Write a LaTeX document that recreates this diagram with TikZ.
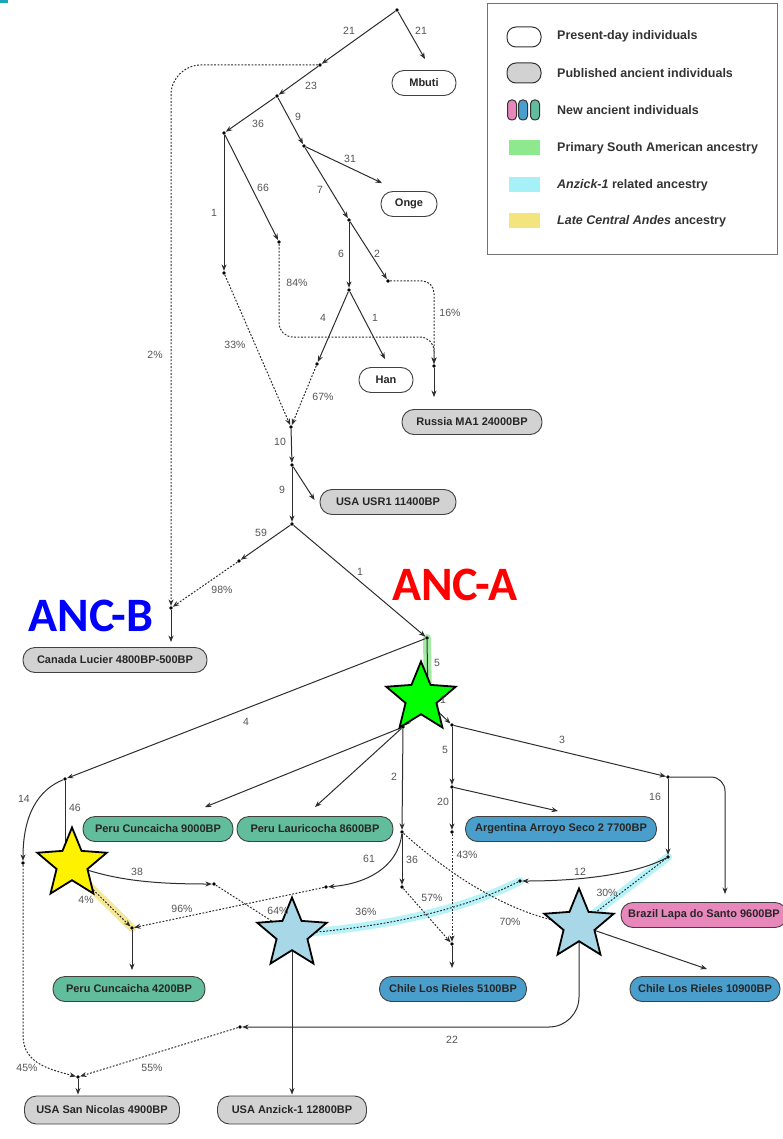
\documentclass[tikz,border=0pt]{standalone}
\usepackage{fontspec}
\setmainfont{Liberation Sans}
\newfontfamily\ancfont{Carlito}
\usetikzlibrary{arrows.meta,shapes.geometric,calc}
\definecolor{edgec}{HTML}{2E2E2E}
\definecolor{lblc}{HTML}{555555}
\definecolor{peruc}{HTML}{62BD9C}
\definecolor{chilec}{HTML}{4A9ECB}
\definecolor{brazc}{HTML}{E887BC}
\definecolor{ancgray}{HTML}{D2D2D2}
\definecolor{hlgreen}{HTML}{8EE88E}
\definecolor{hlcyan}{HTML}{A6F0F7}
\definecolor{hlyellow}{HTML}{F3E47E}
\definecolor{starblue}{HTML}{A8D8E8}
\definecolor{starred}{HTML}{FF0000}
\definecolor{tealmark}{HTML}{1AA6B7}
\pgfdeclarelayer{bg}
\pgfsetlayers{bg,main}
\tikzset{
  dot/.style={circle,fill=black,inner sep=0pt,minimum size=3.8pt},
  pop/.style={draw=black!75,line width=0.9pt,rounded corners=12pt,minimum height=25pt,inner sep=2pt,
    font=\bfseries\fontsize{11}{11}\selectfont,text=black!85},
  modern/.style={pop,fill=white},
  oldpub/.style={pop,fill=ancgray},
  grn/.style={pop,fill=peruc},
  blu/.style={pop,fill=chilec},
  pnk/.style={pop,fill=brazc},
  lbl/.style={font=\fontsize{10.5}{10.5}\selectfont,text=lblc,inner sep=0pt},
  sol/.style={draw=edgec,line width=1pt,-{Stealth[length=6.5pt,width=5pt]}},
  dtd/.style={sol,dash pattern=on 1.8pt off 1.6pt},
  hl/.style={line width=8pt,line cap=round,opacity=0.8},
  bigstar/.style={star,star points=5,star point ratio=2.25,minimum size=73pt,inner sep=0pt,draw=black,line width=1.8pt},
  legtxt/.style={anchor=west,font=\bfseries\fontsize{12.5}{12.5}\selectfont,text=black!80,inner sep=0pt},
  legpill/.style={draw=black!80,line width=1pt,rounded corners=9pt,minimum width=34pt,minimum height=20pt,inner sep=0pt},
  legthin/.style={draw=black!80,line width=1pt,rounded corners=4pt,minimum width=9pt,minimum height=20pt,inner sep=0pt},
  legsq/.style={minimum width=31pt,minimum height=15pt,inner sep=0pt},
  anclbl/.style={font=\ancfont\bfseries\fontsize{48}{48}\selectfont,inner sep=0pt}
}
\begin{document}
\begin{tikzpicture}[x=1pt,y=-1pt]
\useasboundingbox (0,0) rectangle (783,1139);
\begin{pgfonlayer}{bg}
\fill[white] (0,0) rectangle (783,1139);
\end{pgfonlayer}
\fill[tealmark] (0,0) rectangle (8,3);

% branching points
\foreach \n/\x/\y in {r0/397/10, n1/320/65, n2/277/96, n3/224/133, n4/304/146, n5/224/273,
  n6/279/242, n7/349/220, n8/349/290, n9/388/281, n10/317/364, n11/434/366, n12/291/427,
  n13/292/465, n14/292/524, n15/239/561, ancB/171/608, ancA/427/638, n16/428/702,
  n17/452/725, n18/403/727, n19/65/779, n20/452/787, n21/668/777, n22/452/832, n23/668/857,
  n24/402/832, n25/402/887, n26/452/944, n27/520/881, n28/240/1027, n29/326/887,
  n30/132/928, n31/214/884, n32/65/862, n33/23/863, n34/78/1077, n35/292/934, n36/579/925}
  \node[dot] (\n) at (\x,\y) {};

% populations
\node[modern,minimum width=64pt] (mbuti) at (424,83) {Mbuti};
\node[modern,minimum width=56pt] (onge) at (409,204) {Onge};
\node[modern,minimum width=54pt] (han) at (386,380) {Han};
\node[oldpub,minimum width=140pt] (ma1) at (472,422) {Russia MA1 24000BP};
\node[oldpub,minimum width=136pt] (usr1) at (388,502) {USA USR1 11400BP};
\node[oldpub,minimum width=184pt] (lucier) at (115,660) {Canada Lucier 4800BP-500BP};
\node[grn,minimum width=150pt] (cun9) at (158,829) {Peru Cuncaicha 9000BP};
\node[grn,minimum width=156pt] (lau) at (315,829) {Peru Lauricocha 8600BP};
\node[blu,minimum width=191pt] (arg) at (561,829) {Argentina Arroyo Seco 2 7700BP};
\node[pnk,minimum width=166pt] (brz) at (704,915) {Brazil Lapa do Santo 9600BP};
\node[grn,minimum width=152pt] (cun4) at (129,989) {Peru Cuncaicha 4200BP};
\node[blu,minimum width=147pt] (lr5) at (453,989) {Chile Los Rieles 5100BP};
\node[blu,minimum width=150pt] (lr10) at (705,989) {Chile Los Rieles 10900BP};
\node[oldpub,minimum width=155pt,minimum height=28pt] (sn) at (102,1110) {USA San Nicolas 4900BP};
\node[oldpub,minimum width=149pt,minimum height=28pt] (anz) at (292,1110) {USA Anzick-1 12800BP};

% arrow end points near the populations
\coordinate (mbuti-in) at ($(mbuti.north)+(1,-11)$);
\coordinate (onge-in) at ($(onge.north)+(-27,-8)$);
\coordinate (han-in) at ($(han.north)+(-1,-8)$);
\coordinate (ma1-in) at ($(n11 |- ma1.north)+(0,-12)$);
\coordinate (usr1-in) at ($(usr1.west)+(-5,-2)$);
\coordinate (lucier-in) at ($(ancB |- lucier.north)+(0,-5)$);
\coordinate (cun9-in) at ($(cun9.north)+(47,-9)$);
\coordinate (lau-in) at ($(lau.north)+(0,-9)$);
\coordinate (arg-in) at ($(arg.north)+(-3,-5)$);
\coordinate (brz-in) at ($(brz.north)+(21,-8)$);
\coordinate (cun4-in) at ($(n30 |- cun4.north)+(0,-6)$);
\coordinate (lr5-in) at ($(n26 |- lr5.north)+(0,-8)$);
\coordinate (lr10-in) at ($(lr10.north)+(2,-7)$);
\coordinate (sn-in) at ($(n34 |- sn.north)+(0,-1)$);
\coordinate (anz-in) at ($(n35 |- anz.north)+(0,-1)$);

% highlights
\begin{pgfonlayer}{bg}
\draw[hl,hlgreen] (ancA.center) -- (n16.center);
\draw[hl,hlyellow] (n32.center) -- (n30.center);
\draw[hl,hlcyan] (n27.center) .. controls (470,906) and (400,926) .. (n35.center);
\draw[hl,hlcyan] (n23.center) -- (n36.center);
\end{pgfonlayer}

% solid edges
\draw[sol] (r0) -- (n1);
\draw[sol] (r0) -- (mbuti-in);
\draw[sol] (n1) -- (n2);
\draw[sol] (n2) -- (n3);
\draw[sol] (n2) -- (n4);
\draw[sol] (n3) -- (n5);
\draw[sol] (n3) -- (n6);
\draw[sol] (n4) -- (onge-in);
\draw[sol] (n4) -- (n7);
\draw[sol] (n7) -- (n8);
\draw[sol] (n7) -- (n9);
\draw[sol] (n8) -- (han-in);
\draw[sol] (n8) -- (n10);
\draw[sol] (n11) -- (ma1-in);
\draw[sol] (n12) -- (n13);
\draw[sol] (n13) -- (usr1-in);
\draw[sol] (n13) -- (n14);
\draw[sol] (n14) -- (n15);
\draw[sol] (n14) -- (ancA);
\draw[sol] (ancB) -- (lucier-in);
\draw[sol] (ancA) -- (n16);
\draw[sol] (ancA) -- (n19);
\draw[sol] (n16) -- (n17);
\draw[sol] (n16) -- (n18);
\draw[sol] (n17) -- (n20);
\draw[sol] (n17) -- (n21);
\draw[sol] (n18) -- (cun9-in);
\draw[sol] (n18) -- (lau-in);
\draw[sol] (n18) -- (n24);
\draw[sol] (n20) -- (arg-in);
\draw[sol] (n20) -- (n22);
\draw[sol] (n21) -- (n23);
\draw[sol,rounded corners=14pt] (n21) -| (brz-in);
\draw[sol] (n19) -- (n32);
\draw[sol] (n19) .. controls (38,790) and (23,815) .. (n33);
\draw[sol] (n32) .. controls (110,880) and (150,884) .. (n31);
\draw[sol] (n24) -- (n25);
\draw[sol] (n24) .. controls (398,868) and (365,884) .. (n29);
\draw[sol] (n23) .. controls (640,872) and (590,881) .. (n27);
\draw[sol] (n30) -- (cun4-in);
\draw[sol] (n26) -- (lr5-in);
\draw[sol] (n35) -- (anz-in);
\draw[sol] (n36) -- (lr10-in);
\draw[sol,rounded corners=30pt] (n36) |- (n28);
\draw[sol] (n34) -- (sn-in);

% admixture (dotted) edges
\draw[dtd,rounded corners=30pt] (n1) -| (ancB);
\draw[dtd] (n5) -- (n12);
\draw[dtd] (n10) -- (n12);
\draw[dtd,rounded corners=14pt] (n6) |- ($(n11)+(0,-29)$) -- (n11);
\draw[dtd,rounded corners=12pt] (n9) -| (n11);
\draw[dtd] (n15) -- (ancB);
\draw[dtd] (n33) -- ($(n33)+(0,172)$) .. controls ($(n33)+(0,200)$) and ($(n34)+(-30,-8)$) .. (n34);
\draw[dtd] (n28) -- (n34);
\draw[dtd] (n29) -- (n30);
\draw[dtd] (n31) -- (n35);
\draw[dtd] (n32) -- (n30);
\draw[dtd] (n27) .. controls (470,906) and (400,926) .. (n35);
\draw[dtd] (n24) .. controls (450,875) and (510,915) .. (n36);
\draw[dtd] (n22) -- (n26);
\draw[dtd] (n25) -- (n26);
\draw[dtd] (n23) -- (n36);

% stars
\node[bigstar,fill=green] (starA) at (421,698) {};
\node[bigstar,fill=yellow] (starY) at (72,864) {};
\node[bigstar,fill=starblue] (starL) at (292,934) {};
\node[bigstar,fill=starblue] (starR) at (579,925) {};

% edge labels
\foreach \t/\x/\y [count=\i] in {21/349/31, 21/421/31, 23/311/86, 36/258/124, 9/298/117,
  1/214/213, 66/263/188, 31/350/159, 7/320/190, 6/341/254, 2/377/254, 1/375/318, 4/323/318,
  84\%/297/283, 16\%/450/313, 33\%/235/345, 67\%/323/397, 2\%/155/355, 10/280/442, 9/282/490,
  59/261/533, 1/360/572, 98\%/222/590, 5/437/663, 4/246/722, 1/443/700, 5/445/750, 3/562/740,
  2/394/777, 20/443/802, 16/655/797, 14/24/799, 46/75/808, 38/137/872, 61/369/859, 36/412/860,
  43\%/467/855, 12/580/872, 4\%/86/900, 96\%/182/909, 64\%/278/911, 36\%/366/912, 57\%/432/898,
  70\%/510/922, 30\%/607/893, 22/452/1040, 45\%/27/1068, 55\%/152/1068}
  \node[lbl] (lbl\i) at (\x,\y) {\t};

% ANC labels
\node[anclbl,text=blue] (ancBlbl) at (91,616) {ANC-B};
\node[anclbl,text=starred] (ancAlbl) at (455,585) {ANC-A};

% legend
\node[draw=black!55,line width=1pt,minimum width=290pt,minimum height=251pt,anchor=north west,inner sep=0pt] (legend) at (487,3) {};
\node[legpill,fill=white] (lg1) at (524,37) {};
\node[legpill,fill=ancgray] (lg2) at (524,73) {};
\node[legthin,fill=brazc] (lg3a) at (512,110) {};
\node[legthin,fill=chilec] (lg3b) at (523,110) {};
\node[legthin,fill=peruc] (lg3c) at (535,110) {};
\node[legsq,fill=hlgreen] (lg4) at (524,148) {};
\node[legsq,fill=hlcyan] (lg5) at (524,185) {};
\node[legsq,fill=hlyellow] (lg6) at (524,221) {};
\node[legtxt] (lt1) at (557,36) {Present-day individuals};
\node[legtxt] (lt2) at (557,73) {Published ancient individuals};
\node[legtxt] (lt3) at (557,110) {New ancient individuals};
\node[legtxt] (lt4) at (557,148) {Primary South American ancestry};
\node[legtxt] (lt5) at (557,185) {\itshape Anzick-1\upshape\ related ancestry};
\node[legtxt] (lt6) at (557,221) {\itshape Late Central Andes\upshape\ ancestry};
\end{tikzpicture}
\end{document}
